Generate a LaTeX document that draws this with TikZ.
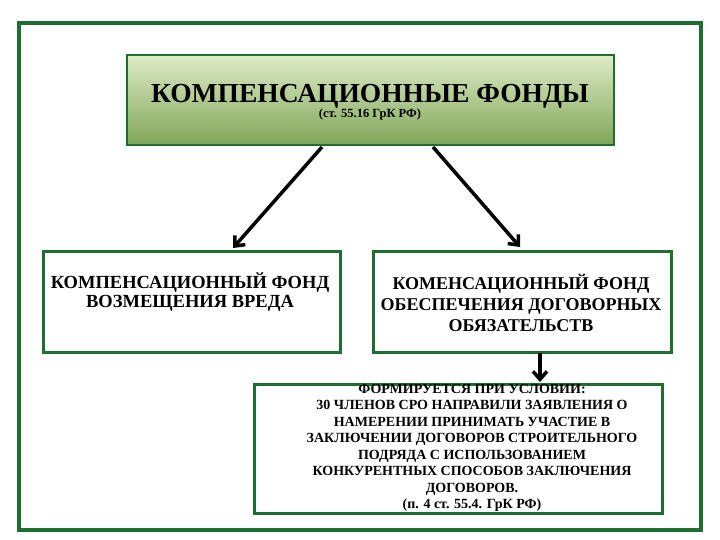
\documentclass[tikz,border=0pt]{standalone}
\usepackage{fontspec}
\setmainfont{Liberation Serif}
\usetikzlibrary{arrows.meta}
\definecolor{gborder}{RGB}{30,110,50}
\begin{document}
\begin{tikzpicture}[x=1pt,y=-1pt,
  box/.style={draw=gborder,line width=3pt,fill=white,align=center,font=\bfseries},
  arr/.style={line width=3.5pt,-{Straight Barb[length=8pt,width=14pt]}}]
\useasboundingbox (0,0) rectangle (720,540);
\draw[gborder,line width=3.5pt] (19,23) rectangle (701,530);
\shade[top color={rgb,255:red,222;green,236;blue,198}, bottom color={rgb,255:red,128;green,165;blue,88}] (127,55) rectangle (614,145);
\draw[gborder,line width=2pt] (127,55) rectangle (614,145);
\node (top) at (370,102) [align=center] {{\fontsize{27.5}{30}\selectfont\bfseries КОМПЕНСАЦИОННЫЕ ФОНДЫ}\\[0pt]{\fontsize{12.5}{14}\selectfont\bfseries (ст. 55.16 ГрК РФ)}};
\coordinate (tl) at (322,147); \coordinate (tr) at (433,147);
\node (L) [box,minimum width=297pt,minimum height=101pt,anchor=north west] at (42,250) {};
\node at (190,292) [font=\bfseries\fontsize{18.5}{19}\selectfont,align=center] {КОМПЕНСАЦИОННЫЙ ФОНД\\ВОЗМЕЩЕНИЯ ВРЕДА};
\node (R) [box,minimum width=298pt,minimum height=101pt,anchor=north west] at (372,250) {};
\node at (521,303) [font=\bfseries\fontsize{18}{21}\selectfont,align=center] {КОМЕНСАЦИОННЫЙ ФОНД\\ОБЕСПЕЧЕНИЯ ДОГОВОРНЫХ\\ОБЯЗАТЕЛЬСТВ};
\node (B) [box,minimum width=408pt,minimum height=129pt,anchor=north west] at (253,383) {};
\node at (472,448) [font=\bfseries\fontsize{14}{16.5}\selectfont,align=center] {ФОРМИРУЕТСЯ ПРИ УСЛОВИИ:\\30 ЧЛЕНОВ СРО НАПРАВИЛИ ЗАЯВЛЕНИЯ О\\НАМЕРЕНИИ ПРИНИМАТЬ УЧАСТИЕ В\\ЗАКЛЮЧЕНИИ ДОГОВОРОВ СТРОИТЕЛЬНОГО\\ПОДРЯДА С ИСПОЛЬЗОВАНИЕМ\\КОНКУРЕНТНЫХ СПОСОБОВ ЗАКЛЮЧЕНИЯ\\ДОГОВОРОВ.\\(п. 4 ст. 55.4. ГрК РФ)};
\draw[arr] (tl) -- (233,248);
\draw[arr] (tr) -- (520,247);
\draw[arr] (540,353) -- (540,382);
\end{tikzpicture}
\end{document}
